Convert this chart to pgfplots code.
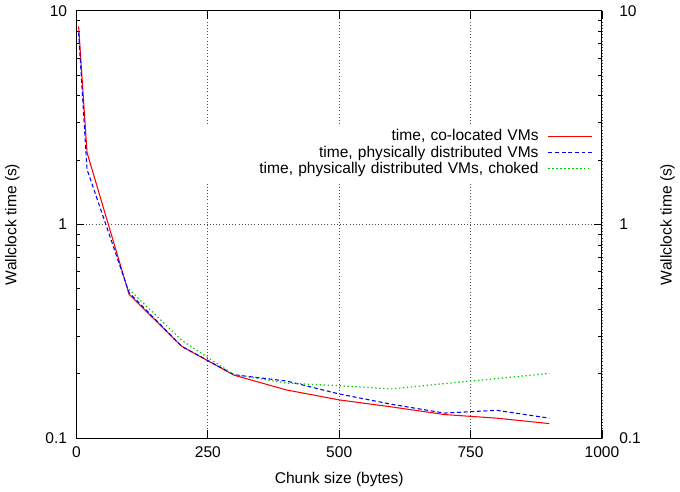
\documentclass[border=0pt]{standalone}
\usepackage{fontspec}
\setmainfont{Liberation Sans}
\usepackage{pgfplots}
\pgfplotsset{compat=1.18}
\definecolor{gpred}{RGB}{255,0,0}
\definecolor{gpblue}{RGB}{0,0,255}
\definecolor{gpgreen}{RGB}{0,200,0}

\pgfplotstableread{
x y
4 8.45
20 2.17
100 0.471
200 0.269
300 0.197
400 0.168
500 0.151
600 0.140
700 0.129
800 0.124
900 0.117
}\colocated

\pgfplotstableread{
x y
4 7.9
20 1.81
100 0.480
200 0.269
300 0.198
400 0.185
500 0.161
600 0.144
700 0.131
800 0.135
900 0.124
}\distributed

\pgfplotstableread{
x y
100 0.497
200 0.287
300 0.198
400 0.181
500 0.176
600 0.170
700 0.180
800 0.190
900 0.201
}\choked

\begin{document}
\fontsize{11.75}{14}\selectfont
\begin{tikzpicture}
\begin{axis}[
  scale only axis, width=397pt, height=323pt,
  xmin=0, xmax=1000, ymode=log, ymin=0.1, ymax=10,
  tick style={black, line width=0.6pt},
  major tick length=6pt, minor tick length=3pt,
  axis line style={black, line width=0.8pt},
  xtick={0,250,500,750,1000},
  xticklabels={0,250,500,750,1000},
  xtick pos=both,
  ytick={0.1,1,10},
  yticklabels={0.1,1,10},
  ytick pos=both, yticklabel pos=left,
  tick align=inside,
  grid=major,
  major grid style={black!70, dotted, line width=0.6pt},
  xlabel={Chunk size (bytes)},
  ylabel={Wallclock time (s)},
  xlabel style={at={(axis description cs:0.5,-0.096)}, anchor=center},
  ylabel style={at={(axis description cs:-0.122,0.5)}, anchor=center},
  xticklabel style={yshift=-2pt},
  yticklabel style={xshift=-3pt},
  legend style={at={(axis description cs:0.988,0.735)}, anchor=north east,
    draw=none, fill=white, inner xsep=2pt, inner ysep=2pt,
    row sep=-2pt,
    nodes={text width=252pt, align=right, inner sep=2pt}},
  legend cell align=right,
  legend plot pos=right,
  legend image code/.code={\path (0pt,0pt); \draw[#1] (5pt,0pt) -- (38pt,0pt);},
]
\addplot[gpred, line width=0.8pt] table[x=x,y=y] {\colocated};
\addlegendentry{time, co-located VMs}
\addplot[gpblue, line width=0.8pt, dash pattern=on 3pt off 2pt] table[x=x,y=y] {\distributed};
\addlegendentry{time, physically distributed VMs}
\addplot[gpgreen, line width=0.9pt, dash pattern=on 1pt off 2pt] table[x=x,y=y] {\choked};
\addlegendentry{time, physically distributed VMs, choked}
\end{axis}
\begin{axis}[
  scale only axis, width=397pt, height=323pt,
  xmin=0, xmax=1000, ymode=log, ymin=0.1, ymax=10,
  tick style={black, line width=0.6pt},
  major tick length=6pt, minor tick length=3pt,
  axis x line=none,
  axis y line*=right,
  axis line style={black, line width=0.8pt, -},
  ytick={0.1,1,10},
  yticklabels={0.1,1,10},
  tick align=inside,
  yticklabel style={anchor=west, xshift=9pt},
  ylabel={Wallclock time (s)},
  ylabel style={at={(axis description cs:1.125,0.5)}, anchor=center, rotate=0},
]
\addplot[draw=none] table[x=x,y=y] {\choked};
\end{axis}
\end{tikzpicture}
\end{document}
